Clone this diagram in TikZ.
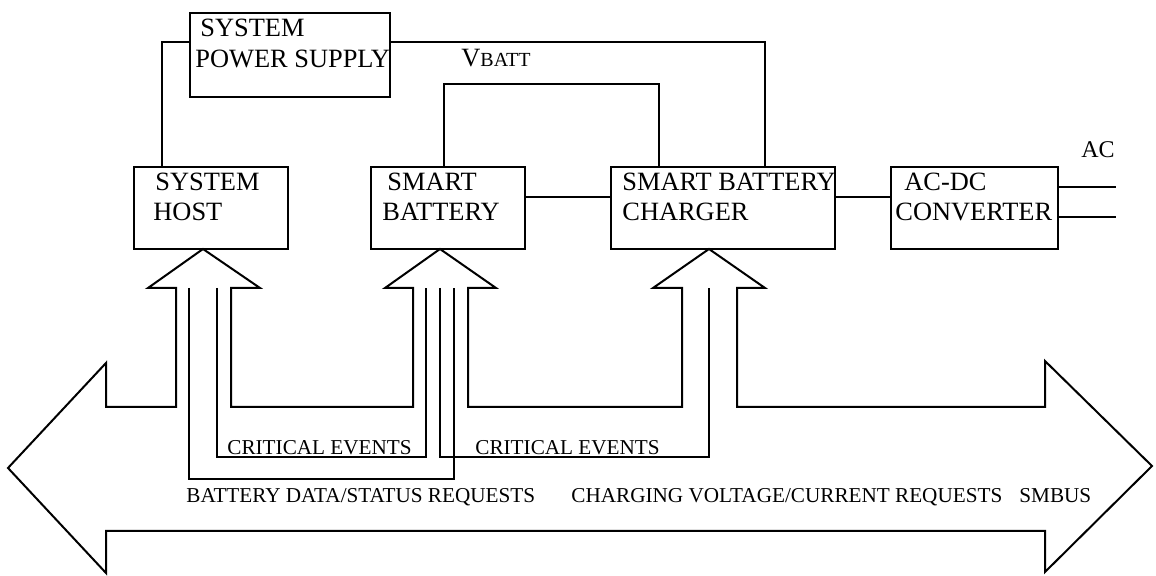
\documentclass[tikz,border=0pt]{standalone}
\usepackage{fontspec}
\setmainfont{Liberation Serif}
\newcommand\bigtxt{\fontsize{13.2}{15}\selectfont}
\newcommand\smalltxt{\fontsize{10.6}{12}\selectfont}

\begin{document}
\begin{tikzpicture}[x=0.5pt, y=-0.5pt,
    block/.style = {draw, line width=1.3pt, minimum height=41pt, inner sep=0pt},
    wire/.style = {line width=1.1pt},
    bus/.style = {line width=1pt},
    lbl/.style = {anchor=base west, inner sep=0pt, font=\bigtxt},
    slbl/.style = {anchor=base west, inner sep=0pt, font=\smalltxt}]
\useasboundingbox (0,0) rectangle (1156,576);
% boxes
\node[block, minimum width=100pt, minimum height=42pt] (psu) at (290,55) {};
\node[block, minimum width=77pt] (host) at (211,208) {};
\node[block, minimum width=77pt] (batt) at (448,208) {};
\node[block, minimum width=112pt] (chg) at (723,208) {};
\node[block, minimum width=83.5pt] (acdc) at (974.5,208) {};
\node[lbl] (psu1) at (200,37) {SYSTEM};
\node[lbl] (psu2) at (195,68) {POWER SUPPLY};
\node[lbl] (host1) at (155,191) {SYSTEM};
\node[lbl] (host2) at (153,221) {HOST};
\node[lbl] (batt1) at (387,191) {SMART};
\node[lbl] (batt2) at (382,221) {BATTERY};
\node[lbl] (chg1) at (622,191) {SMART BATTERY};
\node[lbl] (chg2) at (622,221) {CHARGER};
\node[lbl] (acdc1) at (904,191) {AC-DC};
\node[lbl] (acdc2) at (895,221) {CONVERTER};
\node[lbl] (vbatt) at (461,67) {V{\fontsize{10}{12}\selectfont BATT}};
\node[lbl, font=\fontsize{12}{14}\selectfont] (ac) at (1081,158) {AC};
% power wiring
\draw[wire] ([yshift=-15pt]psu.north west) -| ([xshift=-24.5pt]host.north);
\draw[wire] ([yshift=-15pt]psu.north east) -| ([xshift=21pt]chg.north);
\draw[wire] ([xshift=-2pt]batt.north) -- ++(0,-82) -| ([xshift=-32pt]chg.north);
\draw[wire] ([yshift=5.5pt]batt.east) -- ([yshift=5.5pt]chg.west);
\draw[wire] ([yshift=5.5pt]chg.east) -- ([yshift=5.5pt]acdc.west);
\coordinate (ac1) at (1116,187);
\coordinate (ac2) at (1116,217);
\draw[wire] (acdc.east |- ac1) -- (ac1);
\draw[wire] (acdc.east |- ac2) -- (ac2);
% smbus
\draw[bus] (106,363) -- (106,407) -- (176,407) -- (176,288) -- (148,288) -- (203,249)
  -- (260,288) -- (231,288) -- (231,407) -- (413,407) -- (413,288) -- (385,288)
  -- (440,249) -- (496,288) -- (468,288) -- (468,407) -- (682,407) -- (682,288)
  -- (653,288) -- (709,249) -- (765,288) -- (737,288) -- (737,407) -- (1045,407)
  -- (1045,361) -- (1152,466) -- (1045,572) -- (1045,531) -- (106,531)
  -- (106,573) -- (8,468) -- cycle;
\draw[bus] (189,288) |- (454,479) -- (454,288);
\draw[bus] (217,288) |- (426,457) -- (426,288);
\draw[bus] (440,288) |- (709,457) -- (709,288);
\node[slbl] (ev1) at (227,455) {CRITICAL EVENTS};
\node[slbl] (ev2) at (475,455) {CRITICAL EVENTS};
\node[slbl] (req1) at (186,503) {BATTERY DATA/STATUS REQUESTS};
\node[slbl] (req2) at (571,503) {CHARGING VOLTAGE/CURRENT REQUESTS};
\node[slbl] (smbus) at (1019,503) {SMBUS};
\end{tikzpicture}
\end{document}
